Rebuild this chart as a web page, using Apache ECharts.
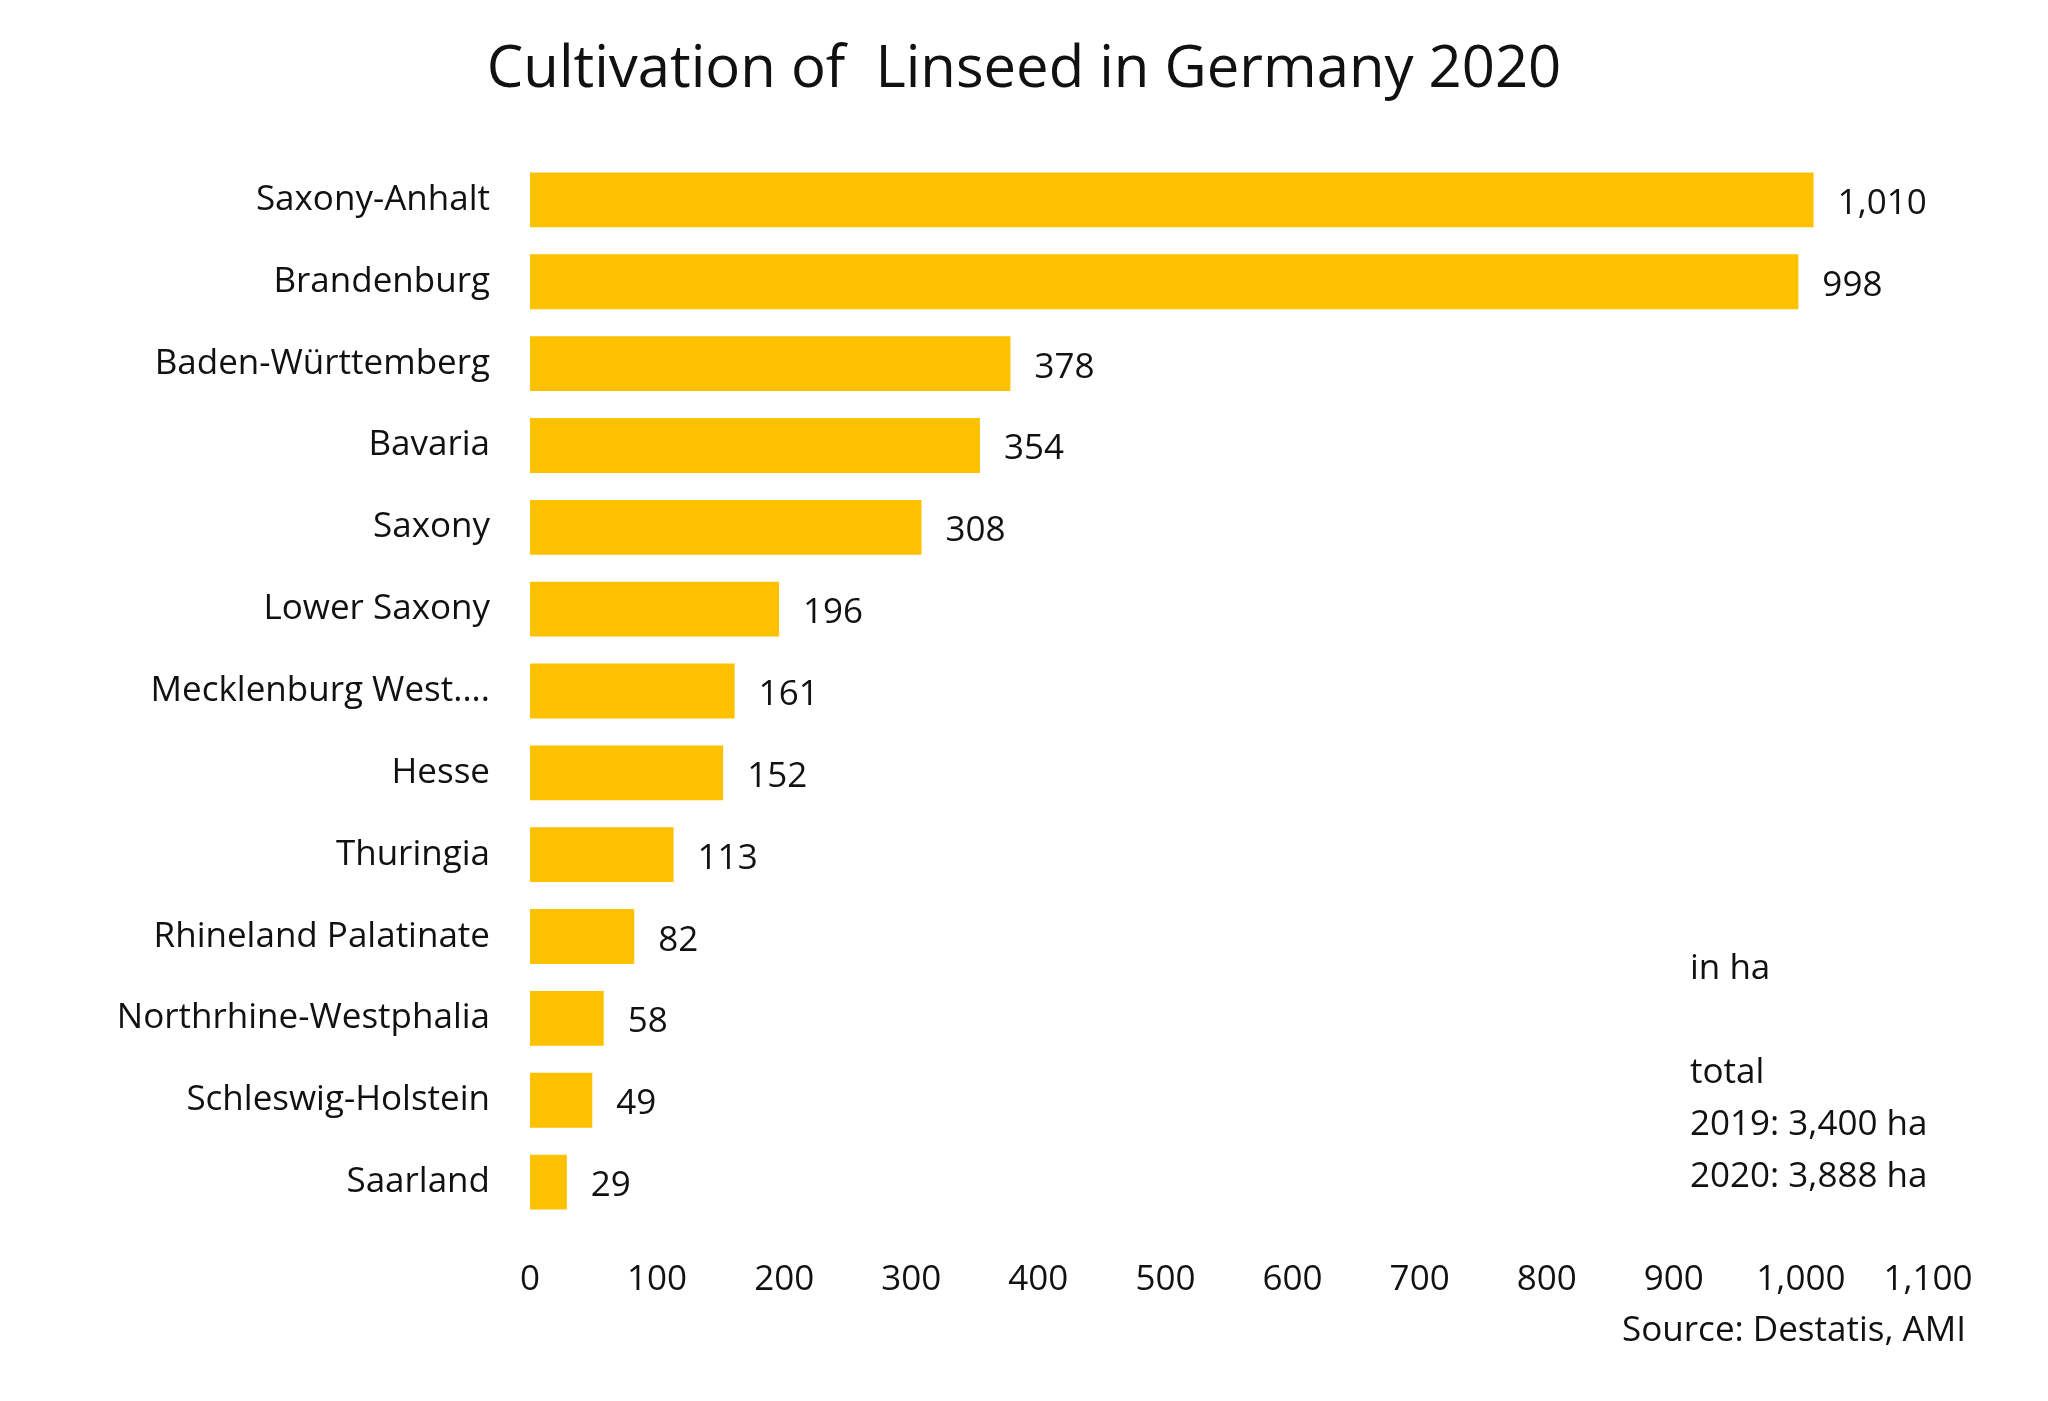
<!DOCTYPE html>
<html>
    <head>
        <meta charset="utf-8">
        <script src="https://cdn.jsdelivr.net/npm/echarts@6/dist/echarts.min.js"></script>
    </head>
    <body style="margin:0;background:#fff">
        <div id="main" style="width: 2048px; height: 1401px;"></div>
        <script>
            var states = ['Saxony-Anhalt', 'Brandenburg', 'Baden-Württemberg', 'Bavaria', 'Saxony', 'Lower Saxony',
                'Mecklenburg West....', 'Hesse', 'Thuringia', 'Rhineland Palatinate', 'Northrhine-Westphalia',
                'Schleswig-Holstein', 'Saarland'];
            var hectares = [1010, 998, 378, 354, 308, 196, 161, 152, 113, 82, 58, 49, 29];
            var notes = ['in ha', '', 'total', '2019: 3,400 ha', '2020: 3,888 ha'];

            var chartDom = document.getElementById('main');
            var myChart = echarts.init(chartDom);
            var font = '"Open Sans", sans-serif';

            var noteTexts = [];
            notes.forEach(function (t, i) {
                if (!t) return;
                noteTexts.push({
                    type: 'text', left: 1690, top: 952 + i * 52,
                    style: { text: t, font: '35px ' + font, fill: '#111' }
                });
            });

            var option = {
                animation: false,
                title: {
                    text: 'Cultivation of  Linseed in Germany 2020',
                    left: 'center', top: 36,
                    textStyle: { fontFamily: font, fontWeight: 'normal', fontSize: 58, color: '#111' }
                },
                grid: { left: 530, right: 120, top: 159, bottom: 178, containLabel: false },
                xAxis: {
                    type: 'value', min: 0, max: 1100, interval: 100,
                    axisLine: { show: false }, axisTick: { show: false }, splitLine: { show: false },
                    axisLabel: {
                        margin: 40, color: '#111', fontFamily: font, fontSize: 35,
                        formatter: function (v) { return v.toLocaleString('en-US'); }
                    }
                },
                yAxis: {
                    type: 'category', data: states, inverse: true,
                    axisLine: { show: false }, axisTick: { show: false },
                    axisLabel: { margin: 40, color: '#111', fontFamily: font, fontSize: 35 }
                },
                series: [{
                    type: 'bar', data: hectares, barWidth: '67%',
                    itemStyle: { color: '#FDC100' },
                    label: {
                        show: true, position: 'right', distance: 24, offset: [0, 4],
                        color: '#111', fontFamily: font, fontSize: 35,
                        formatter: function (p) { return p.value.toLocaleString('en-US'); }
                    }
                }],
                graphic: noteTexts.concat([{
                    type: 'text', right: 82, top: 1314,
                    style: { text: 'Source: Destatis, AMI', font: '35px ' + font, fill: '#111' }
                }])
            };
            myChart.setOption(option);
        </script>
    </body>
</html>
